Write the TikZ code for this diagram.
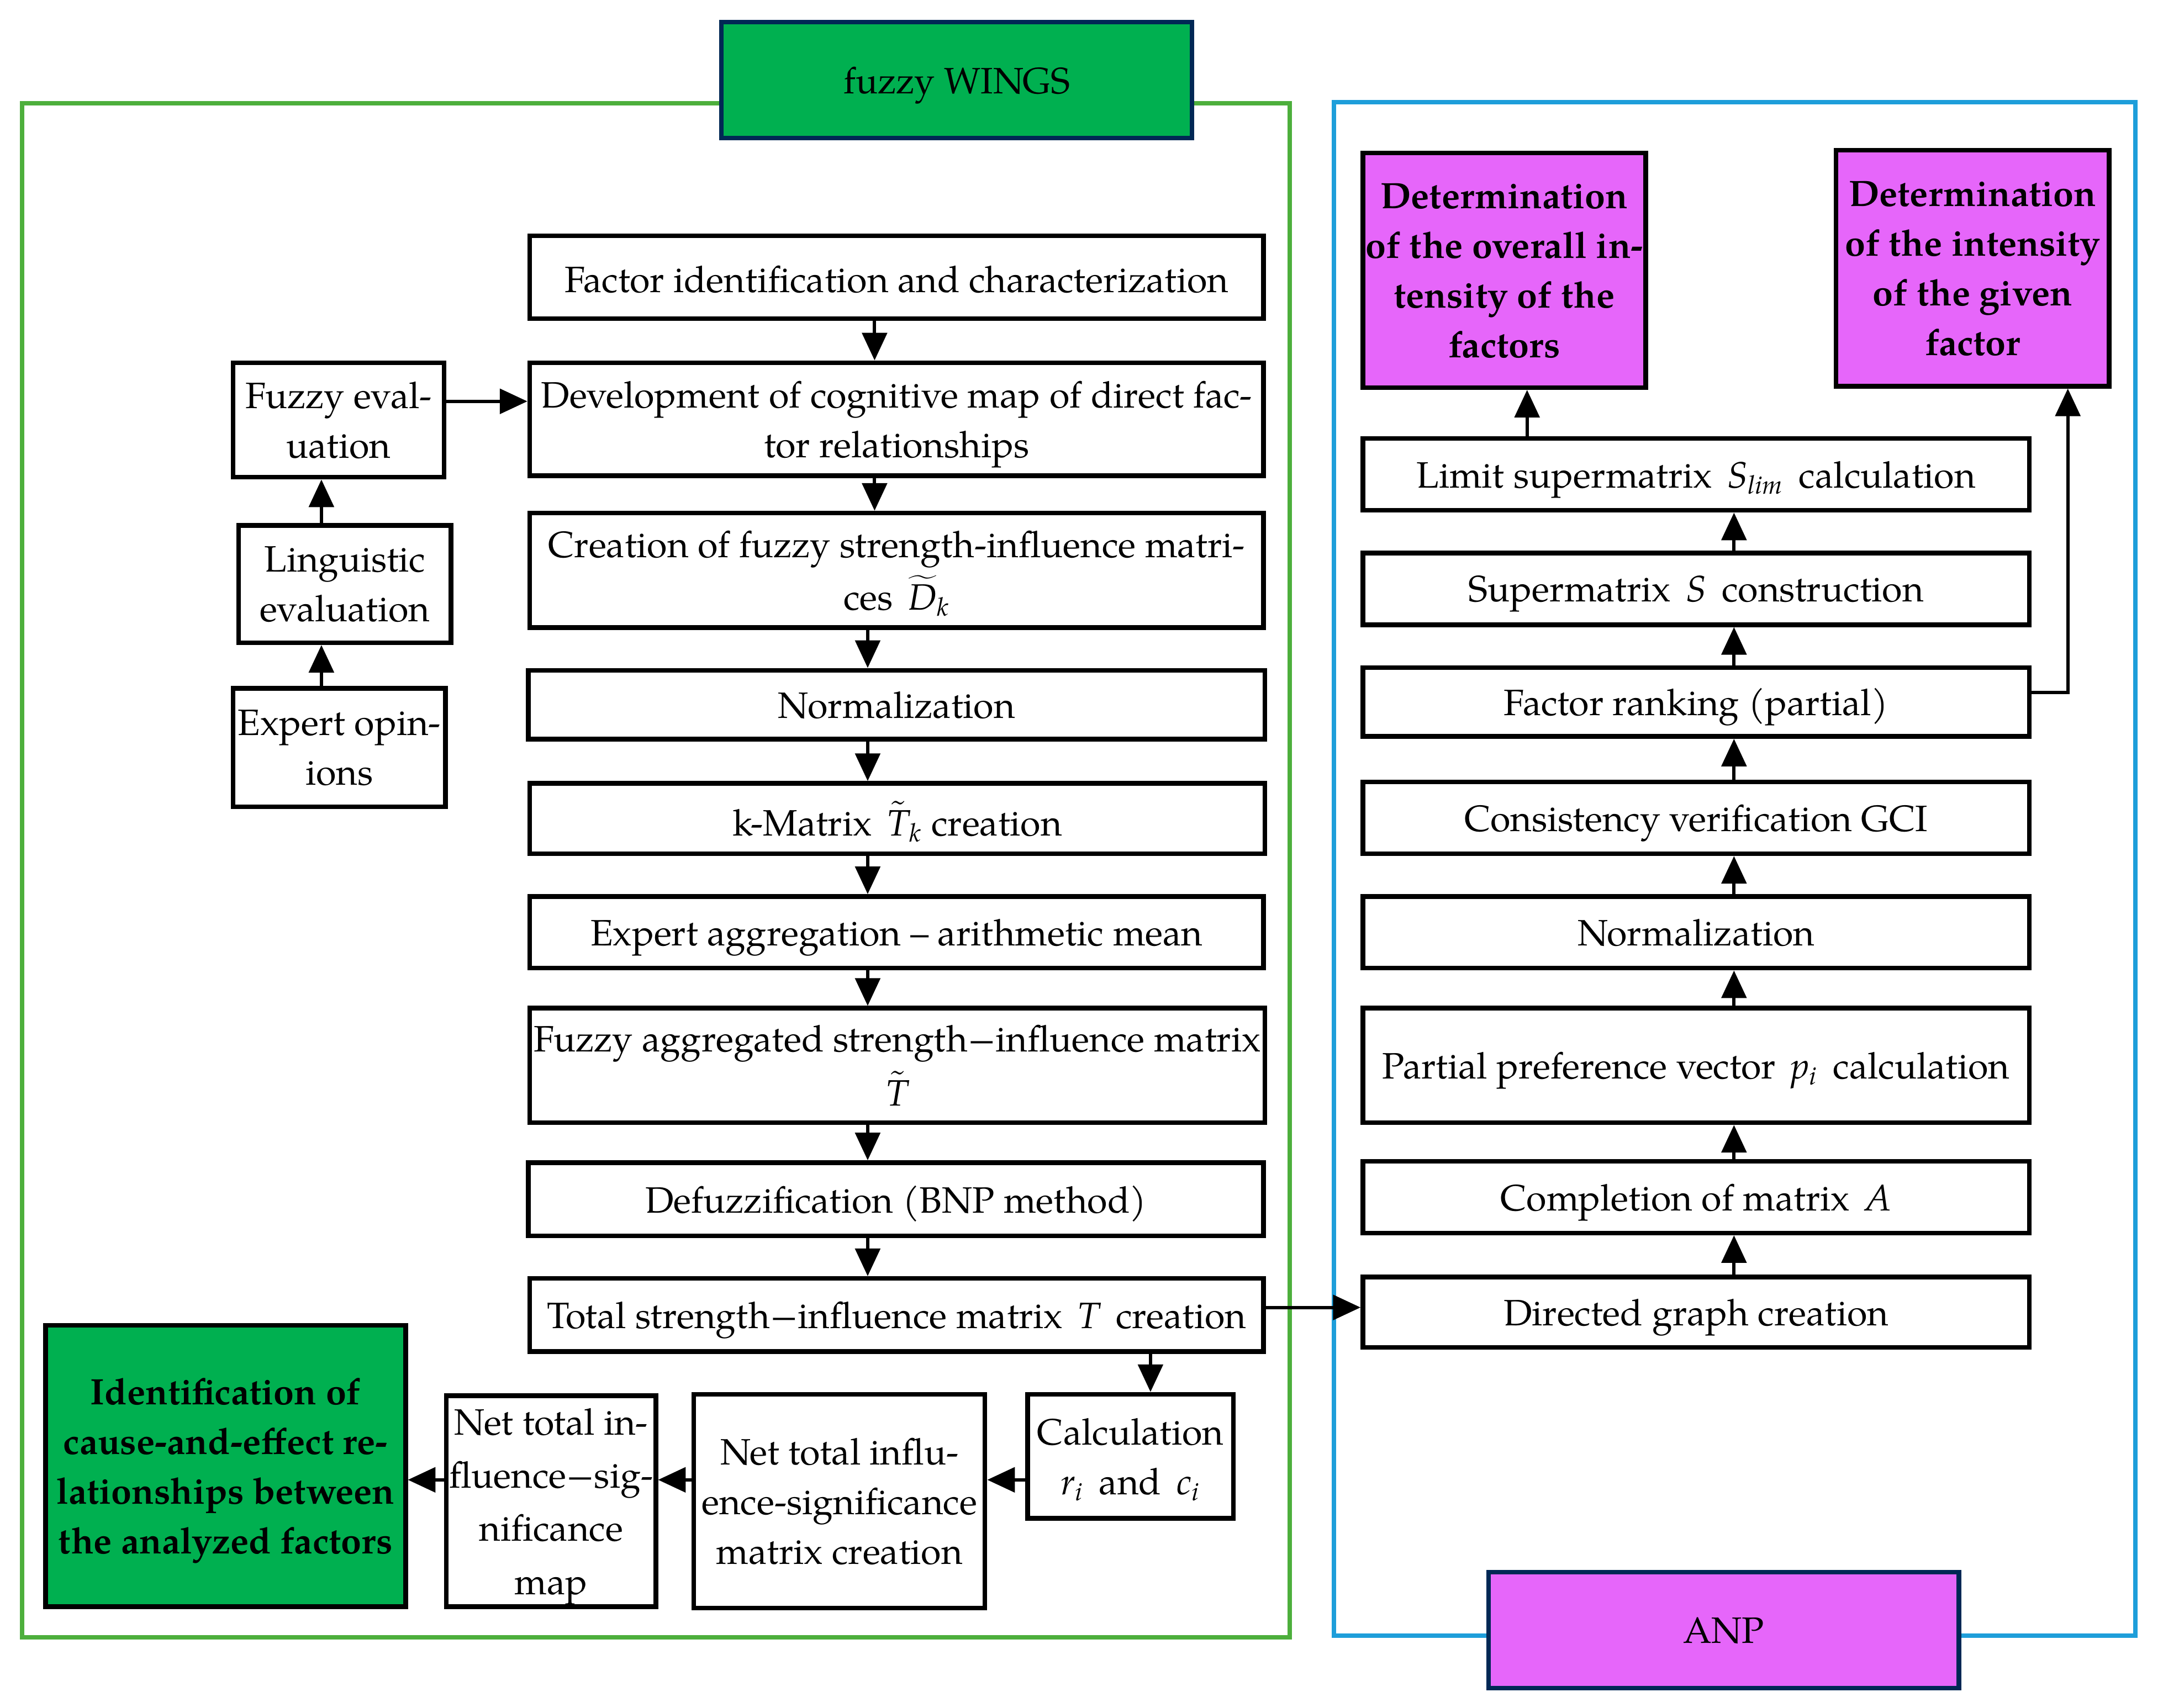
\documentclass[tikz,border=0pt]{standalone}
\usepackage{fontspec}
\setmainfont{TeX Gyre Pagella}
\DeclareSymbolFont{letters}{TU}{\rmdefault}{m}{it}
\usetikzlibrary{arrows.meta}
\definecolor{framegreen}{RGB}{77,175,60}
\definecolor{framblue}{RGB}{30,158,218}
\definecolor{boxgreen}{RGB}{0,176,80}
\definecolor{navy}{RGB}{0,40,85}
\definecolor{violet}{RGB}{230,102,250}
\begin{document}
\begin{tikzpicture}[x=0.5pt,y=-0.5pt,
  every node/.style={font=\fontsize{13.3}{18}\selectfont},
  box/.style={draw=black, line width=1.7pt, fill=white, align=center, inner sep=1pt, text depth=0pt},
  greenbox/.style={box, fill=boxgreen, font=\fontsize{13.3}{18}\selectfont\bfseries},
  violetbox/.style={box, fill=violet, font=\fontsize{13.3}{18}\selectfont\bfseries},
  titlebox/.style={draw=navy, line width=1.7pt, align=center, text depth=0pt, minimum width=170.5pt, minimum height=42pt},
  arr/.style={line width=1.2pt, -{Triangle[length=10pt,width=9pt]}},
  frame/.style={line width=1.6pt}
]
\useasboundingbox (0,0) rectangle (1568,1238.1);

% frames
\draw[frame, draw=framegreen] (16,75) rectangle (935,1187);
\draw[frame, draw=framblue] (967,74) rectangle (1548,1186);
\node[titlebox, fill=boxgreen] (wings) at (693.5,58) {fuzzy WINGS};
\node[titlebox, fill=violet] (anp) at (1249.5,1182) {ANP};

% WINGS main column
\node[box, minimum width=266pt, minimum height=30pt, text height=11pt] (n1) at (650,201) {Factor identification and characterization};
\node[box, minimum width=266pt, minimum height=41pt] (n2) at (650,304) {Development of cognitive map of direct fac-\\tor relationships};
\node[box, minimum width=266pt, minimum height=41.5pt] (n3) at (650,413.5) {Creation of fuzzy strength-influence matri-\\[1pt]ces\ \,$\widetilde{D}_k$};
\node[box, minimum width=267pt, minimum height=25pt] (n4) at (650,511) {Normalization};
\node[box, minimum width=266.5pt, minimum height=25.5pt] (n5) at (650.5,593.5) {k-Matrix\ \,$\tilde{T}_k$ creation};
\node[box, minimum width=266pt, minimum height=26pt] (n6) at (650,676) {Expert aggregation -- arithmetic mean};
\node[box, minimum width=266.5pt, minimum height=41.5pt] (n7) at (650.5,772.5) {Fuzzy aggregated strength−influence matrix\\[1.5pt]$\tilde{T}$};
\node[box, minimum width=266.5pt, minimum height=26.5pt] (n8) at (649.5,869.5) {Defuzzification (BNP method)};
\node[box, minimum width=266pt, minimum height=26.5pt] (n9) at (650,953.5) {Total strength−influence matrix\ \,$T$\ \,creation};

% left small column
\node[box, minimum width=76.5pt, minimum height=41.5pt] (fe) at (245.5,304.5) {Fuzzy eval-\\uation};
\node[box, minimum width=77pt, minimum height=42.5pt] (le) at (250,423.5) {Linguistic\\evaluation};
\node[box, minimum width=77pt, minimum height=43pt] (eo) at (246,542) {Expert opin-\\ions};

% bottom row
\node[greenbox, minimum width=130.5pt, minimum height=102pt] (id) at (163.5,1063) {Identification of\\cause-and-effect re-\\lationships between\\the analyzed factors};
\node[box, minimum width=74.5pt, minimum height=76.5pt, font=\fontsize{13.3}{19.3}\selectfont] (map) at (399.5,1088.5) {Net total in-\\fluence−sig-\\nificance\\map};
\node[box, minimum width=105.5pt, minimum height=77.5pt] (mat) at (608.5,1088.5) {Net total influ-\\ence-significance\\matrix creation};
\node[box, minimum width=74.5pt, minimum height=45pt] (calc) at (819.5,1056) {Calculation\\$r_i$\ \,and\ \,$c_i$};

% ANP column
\node[box, minimum width=241.5pt, minimum height=26pt] (a1) at (1229.5,344) {Limit supermatrix\ \,$S_{lim}$\ \,calculation};
\node[box, minimum width=241.5pt, minimum height=26pt] (a2) at (1229.5,427) {Supermatrix\ \,$S$\ \,construction};
\node[box, minimum width=241.5pt, minimum height=25pt] (a3) at (1229.5,509) {Factor ranking (partial)};
\node[box, minimum width=241.5pt, minimum height=26pt] (a4) at (1229.5,593) {Consistency verification GCI};
\node[box, minimum width=241.5pt, minimum height=26pt] (a5) at (1229.5,676) {Normalization};
\node[box, minimum width=241.5pt, minimum height=41.5pt] (a6) at (1229.5,772.5) {Partial preference vector\ \,$p_i$\ \,calculation};
\node[box, minimum width=241.5pt, minimum height=26pt] (a7) at (1229.5,868) {Completion of matrix\ \,$A$};
\node[box, minimum width=241.5pt, minimum height=25.5pt] (dg) at (1229.5,951.5) {Directed graph creation};

\node[violetbox, minimum width=102.5pt, minimum height=85pt] (d1) at (1090.5,196) {Determination\\of the overall in-\\tensity of the\\factors};
\node[violetbox, minimum width=99pt, minimum height=85.5pt] (d2) at (1430,194.5) {Determination\\of the intensity\\of the given\\factor};

% helper coordinates
\coordinate (xA) at (634,0);
\coordinate (xB) at (629,0);
\coordinate (xL) at (233,0);
\coordinate (xC) at (834,0);
\coordinate (xR) at (1257,0);
\coordinate (xD) at (1107,0);
\coordinate (xE) at (1499,0);
\coordinate (yH) at (0,1073);
\coordinate (yT) at (0,948);
\coordinate (yF) at (0,291);
\coordinate (yR) at (0,502);

% WINGS arrows
\draw[arr] (n1.south -| xA) -- (n2.north -| xA);
\draw[arr] (n2.south -| xA) -- (n3.north -| xA);
\draw[arr] (n3.south -| xB) -- (n4.north -| xB);
\draw[arr] (n4.south -| xB) -- (n5.north -| xB);
\draw[arr] (n5.south -| xB) -- (n6.north -| xB);
\draw[arr] (n6.south -| xB) -- (n7.north -| xB);
\draw[arr] (n7.south -| xB) -- (n8.north -| xB);
\draw[arr] (n8.south -| xB) -- (n9.north -| xB);

\draw[arr] (eo.north -| xL) -- (le.south -| xL);
\draw[arr] (le.north -| xL) -- (fe.south -| xL);
\draw[arr] (fe.east |- yF) -- (n2.west |- yF);

\draw[arr] (n9.south -| xC) -- (calc.north -| xC);
\draw[arr] (calc.west |- yH) -- (mat.east |- yH);
\draw[arr] (mat.west |- yH) -- (map.east |- yH);
\draw[arr] (map.west |- yH) -- (id.east |- yH);

\draw[arr] (n9.east |- yT) -- (dg.west |- yT);

% ANP arrows
\draw[arr] (dg.north -| xR) -- (a7.south -| xR);
\draw[arr] (a7.north -| xR) -- (a6.south -| xR);
\draw[arr] (a6.north -| xR) -- (a5.south -| xR);
\draw[arr] (a5.north -| xR) -- (a4.south -| xR);
\draw[arr] (a4.north -| xR) -- (a3.south -| xR);
\draw[arr] (a3.north -| xR) -- (a2.south -| xR);
\draw[arr] (a2.north -| xR) -- (a1.south -| xR);
\draw[arr] (a1.north -| xD) -- (d1.south -| xD);
\draw[arr] (a3.east |- yR) -| (d2.south -| xE);
\end{tikzpicture}
\end{document}
